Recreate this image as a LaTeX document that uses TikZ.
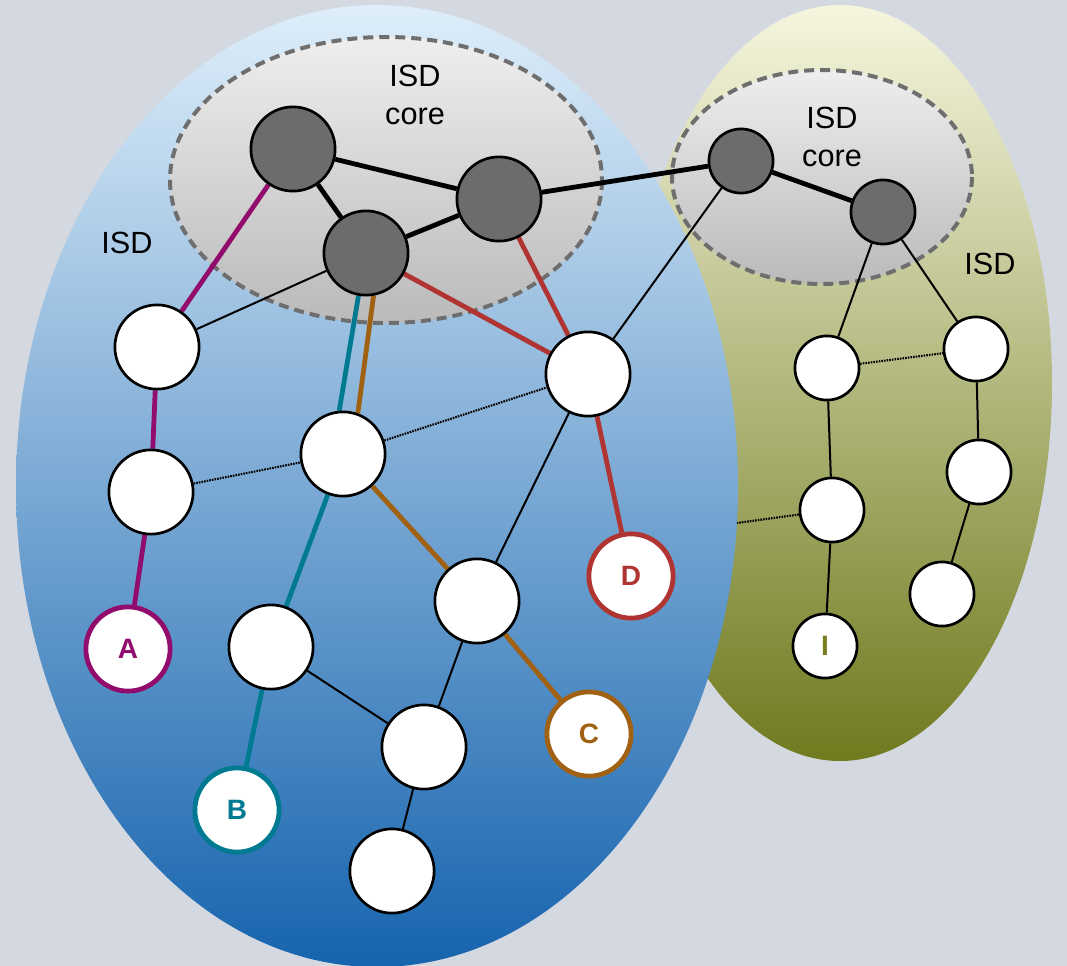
\documentclass[tikz,border=0pt]{standalone}
\usepackage{fontspec}
\setmainfont{Liberation Sans}
\usepackage{tikz}
\definecolor{bgslate}{RGB}{212,217,225}
\definecolor{isdbluetop}{RGB}{222,238,250}
\definecolor{isdbluemid}{RGB}{122,171,214}
\definecolor{isdbluebot}{RGB}{22,100,174}
\definecolor{isdolivetop}{RGB}{245,246,222}
\definecolor{isdolivemid}{RGB}{190,193,134}
\definecolor{isdolivebot}{RGB}{112,122,30}
\definecolor{coretop}{RGB}{238,238,238}
\definecolor{corebot}{RGB}{186,186,186}
\definecolor{dashgray}{RGB}{110,110,110}
\definecolor{nodegray}{RGB}{108,108,108}
\definecolor{isdpurple}{RGB}{146,12,110}
\definecolor{isdteal}{RGB}{0,122,145}
\definecolor{isdbrown}{RGB}{160,98,18}
\definecolor{isdred}{RGB}{176,52,50}
\definecolor{isdolive}{RGB}{122,124,30}
\pgfdeclarelayer{regions}
\pgfdeclarelayer{links}
\pgfsetlayers{regions,links,main}
\tikzset{
  %% ---- regions ----
  coreregion/.style = {top color=coretop, bottom color=corebot,
                   draw=dashgray, line width=3pt,
                   dash pattern=on 7.5pt off 4.5pt},
  isdlabel/.style  = {align=center, inner sep=0pt,
                   font=\fontsize{23}{29}\selectfont},
  %% ---- ases ----
  asnode/.style   = {circle, draw=black, line width=2pt, fill=white,
                   minimum size=#1, inner sep=0pt},
  asnode/.default = 2.22cm,
  coreas/.style   = {asnode=#1, fill=nodegray},
  coreas/.default = 2.22cm,
  endas/.style    = {asnode, draw=#1, line width=3.6pt, text=#1,
                   font=\fontsize{21}{24}\selectfont\bfseries},
  %% ---- links ----
  corelink/.style = {line width=3.6pt, color=black},
  thinlink/.style = {line width=1.5pt, color=black},
  peerlink/.style = {line width=1.6pt, color=black,
                   dash pattern=on 1.2pt off 0.8pt},
  pathlink/.style = {line width=3.6pt, color=#1},
}

\begin{document}
\begin{tikzpicture}[x=0.75pt, y=-0.75pt]
  \useasboundingbox (0,0) rectangle (1067,966);

  \begin{pgfonlayer}{regions}
    \fill[bgslate] (0,0) rectangle (1067,966);
    \shade[top color=isdolivetop, middle color=isdolivemid,
           bottom color=isdolivebot]
      (840,383) ellipse [x radius=212, y radius=378];
    \shade[top color=isdbluetop, middle color=isdbluemid,
           bottom color=isdbluebot]
      (377,486) ellipse [x radius=361, y radius=481];
    \shadedraw[coreregion] (386,180) ellipse [x radius=216, y radius=143];
    \shadedraw[coreregion] (822,177) ellipse [x radius=150, y radius=107];
  \end{pgfonlayer}

  % region labels
  \node[isdlabel] (bluecore) at (415,95) {ISD\\core};
  \node[isdlabel] (olivecore) at (832,137) {ISD\\core};
  \node[isdlabel] (blueisd) at (127,243) {ISD};
  \node[isdlabel] (oliveisd) at (990,264) {ISD};

  % core ases
  \node[coreas] (c1) at (293,149) {};
  \node[coreas] (c2) at (499,199) {};
  \node[coreas] (c3) at (366,253) {};
  \node[coreas=1.69cm] (c4) at (741,161) {};
  \node[coreas=1.69cm] (c5) at (883,212) {};

  % blue isd
  \node[asnode] (n1) at (157,347) {};
  \node[asnode] (n2) at (151,492) {};
  \node[asnode] (n3) at (343,454) {};
  \node[asnode] (n4) at (588,374) {};
  \node[asnode] (n5) at (477,601) {};
  \node[asnode] (n6) at (271,647) {};
  \node[asnode] (n7) at (424,747) {};
  \node[asnode] (n8) at (392,871) {};
  \node[endas=isdpurple] (A) at (128,649) {A};
  \node[endas=isdteal]   (B) at (237,810) {B};
  \node[endas=isdbrown]  (C) at (589,734) {C};
  \node[endas=isdred]    (D) at (631,576) {D};

  % olive isd
  \node[asnode=1.69cm] (o1) at (827,368) {};
  \node[asnode=1.69cm] (o2) at (976,349) {};
  \node[asnode=1.69cm] (o3) at (832,510) {};
  \node[asnode=1.69cm] (o4) at (979,472) {};
  \node[asnode=1.69cm] (o5) at (942,594) {};
  \node[asnode=1.69cm, text=isdolive,
        font=\fontsize{21}{24}\selectfont\bfseries] (I) at (825,646) {I};
  \coordinate (hidden) at (737,523);

  \begin{pgfonlayer}{links}
    \draw[corelink] (c1) -- (c2);
    \draw[corelink] (c1) -- (c3);
    \draw[corelink] (c3) -- (c2);
    \draw[corelink] (c2) -- (c4);
    \draw[corelink] (c4) -- (c5);

    \draw[pathlink=isdpurple] (c1) -- (n1) -- (n2) -- (A);
    \draw[pathlink=isdteal] (c3.260) -- (n3.95);
    \draw[pathlink=isdteal] (n3) -- (n6) -- (B);
    \draw[pathlink=isdbrown] (c3.280) -- (n3.70);
    \draw[pathlink=isdbrown] (n3) -- (n5) -- (C);
    \draw[pathlink=isdred] (c3) -- (n4);
    \draw[pathlink=isdred] (c2) -- (n4) -- (D);

    \draw[thinlink] (c3) -- (n1);
    \draw[thinlink] (n4) -- (c4);
    \draw[thinlink] (n4) -- (n5);
    \draw[thinlink] (n5) -- (n7);
    \draw[thinlink] (n6) -- (n7);
    \draw[thinlink] (n7) -- (n8);
    \draw[thinlink] (c5) -- (o1);
    \draw[thinlink] (c5) -- (o2);
    \draw[thinlink] (o1) -- (o3);
    \draw[thinlink] (o3) -- (I);
    \draw[thinlink] (o2) -- (o4);
    \draw[thinlink] (o4) -- (o5);

    \draw[peerlink] (n2) -- (n3);
    \draw[peerlink] (n3) -- (n4);
    \draw[peerlink] (o1) -- (o2);
    \draw[peerlink] (o3) -- (hidden);
  \end{pgfonlayer}

\end{tikzpicture}
\end{document}
